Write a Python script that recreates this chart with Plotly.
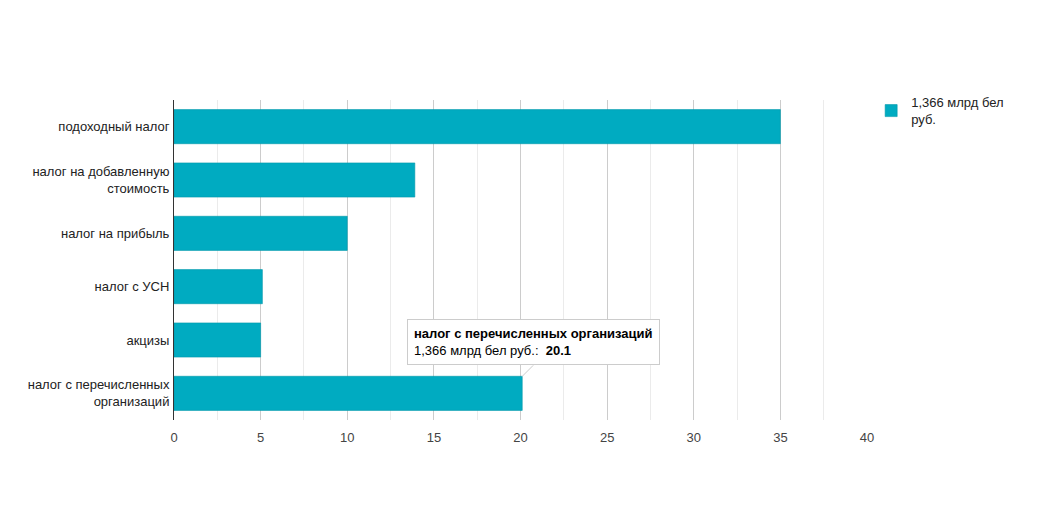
import plotly.graph_objects as go

# данные
categories = [
    "подоходный налог",
    "налог на добавленную<br>стоимость",
    "налог на прибыль",
    "налог с УСН",
    "акцизы",
    "налог с перечисленных<br>организаций",
]
values = [35.0, 13.9, 10.0, 5.1, 5.0, 20.1]
series_name = "1,366 млрд бел<br>руб."
x_ticks = [0, 5, 10, 15, 20, 25, 30, 35, 40]

bar_color = "#00abc1"
font_family = "Liberation Sans, Arial, sans-serif"

fig = go.Figure()
fig.add_trace(go.Bar(
    x=values,
    y=categories,
    orientation="h",
    name=series_name,
    marker=dict(color=bar_color, line=dict(color="#0097a9", width=0.6)),
))

# подсказка над последним столбцом
fig.add_annotation(
    x=values[-1], y=categories[-1],
    text="<b>налог с перечисленных организаций</b><br>1,366 млрд бел руб.:  <b>20.1</b>",
    align="left",
    showarrow=True, arrowhead=0, arrowcolor="#cccccc", arrowwidth=1,
    ax=11, ay=-11, yshift=17,
    xanchor="center", yanchor="bottom",
    bgcolor="white", bordercolor="#cccccc", borderwidth=1, borderpad=6,
    font=dict(family=font_family, size=13, color="#000000"),
)

fig.update_layout(
    width=1040, height=520,
    margin=dict(l=166, r=181, t=92, b=108),
    plot_bgcolor="white", paper_bgcolor="white",
    font=dict(family=font_family, size=13, color="#222222"),
    bargap=0.36,
    showlegend=True,
    legend=dict(
        x=1.006, y=1.04, xanchor="left", yanchor="top",
        font=dict(size=13, color="#222222"),
        itemwidth=30,
    ),
    xaxis=dict(
        range=[0, 40], tickvals=x_ticks,
        showgrid=True, gridcolor="#cccccc", gridwidth=1,
        minor=dict(dtick=2.5, showgrid=True, gridcolor="#ebebeb"),
        zeroline=False, showline=False,
        tickfont=dict(color="#444444", size=13),
        ticks="", ticklen=0, ticklabelstandoff=8,
    ),
    yaxis=dict(
        range=[5.5, -0.5], autorange=False,
        showline=True, linecolor="#333333", linewidth=1,
        ticks="", ticklabelstandoff=1,
        tickfont=dict(color="#222222", size=13),
    ),
)

fig.write_html("out.html")
